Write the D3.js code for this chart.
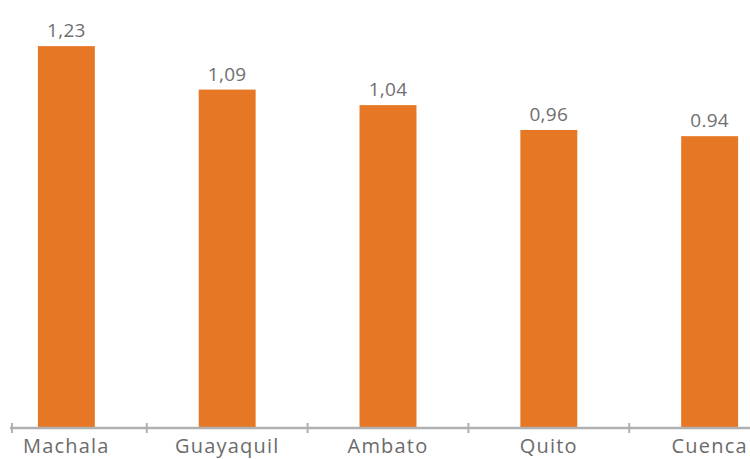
<!DOCTYPE html>
<html>
<head>
<meta charset="utf-8">
<script src="https://cdn.jsdelivr.net/npm/d3@7"></script>
<style>
  html, body { margin: 0; padding: 0; background: #ffffff; }
  svg { display: block; }
  text { font-family: "Open Sans", "DejaVu Sans", sans-serif; }
</style>
</head>
<body>
<svg id="chart" width="750" height="459"></svg>
<script>
const categories = ["Machala", "Guayaquil", "Ambato", "Quito", "Cuenca"];
const values = [1.23, 1.09, 1.04, 0.96, 0.94];
const valueLabels = ["1,23", "1,09", "1,04", "0,96", "0.94"];

const width = 750, height = 459;
const baseline = 428;
const svg = d3.select("#chart");

const x = d3.scaleBand()
  .domain(categories)
  .range([10, 766])
  .paddingInner(0.646)
  .paddingOuter(0.1735);

const y = d3.scaleLinear()
  .domain([0, 1.3])
  .range([baseline, 24.4]);

const data = categories.map((c, i) => ({ c, v: values[i], label: valueLabels[i] }));

// bars
svg.append("g").selectAll("rect")
  .data(data)
  .join("rect")
  .attr("x", d => x(d.c))
  .attr("width", x.bandwidth())
  .attr("y", d => y(d.v))
  .attr("height", d => y(0) - y(d.v))
  .attr("fill", "#E67725");

// axis line
const axisColor = "#b0b0b0";
const ax = svg.append("g");
ax.append("line")
  .attr("x1", 10).attr("x2", width)
  .attr("y1", baseline).attr("y2", baseline)
  .attr("stroke", axisColor).attr("stroke-width", 2.5);

// tick marks: axis start and boundaries between categories
const step = x.step();
const tickXs = [12].concat(categories.slice(1).map(c => x(c) - (step - x.bandwidth()) / 2));
ax.selectAll("line.tick")
  .data(tickXs)
  .join("line")
  .attr("class", "tick")
  .attr("x1", d => d).attr("x2", d => d)
  .attr("y1", baseline - 5).attr("y2", baseline + 5)
  .attr("stroke", axisColor).attr("stroke-width", 2);

// category labels
svg.append("g").selectAll("text")
  .data(data)
  .join("text")
  .attr("x", d => x(d.c) + x.bandwidth() / 2)
  .attr("y", 453)
  .attr("text-anchor", "middle")
  .attr("font-size", 20)
  .attr("letter-spacing", 1.2)
  .attr("fill", "#6b6b6b")
  .text(d => d.c);

// value labels
svg.append("g").selectAll("text")
  .data(data)
  .join("text")
  .attr("x", d => x(d.c) + x.bandwidth() / 2)
  .attr("y", d => y(d.v) - 9)
  .attr("text-anchor", "middle")
  .attr("font-size", 19)
  .attr("letter-spacing", 0.3)
  .attr("fill", "#6f6f6f")
  .text(d => d.label);
</script>
</body>
</html>
